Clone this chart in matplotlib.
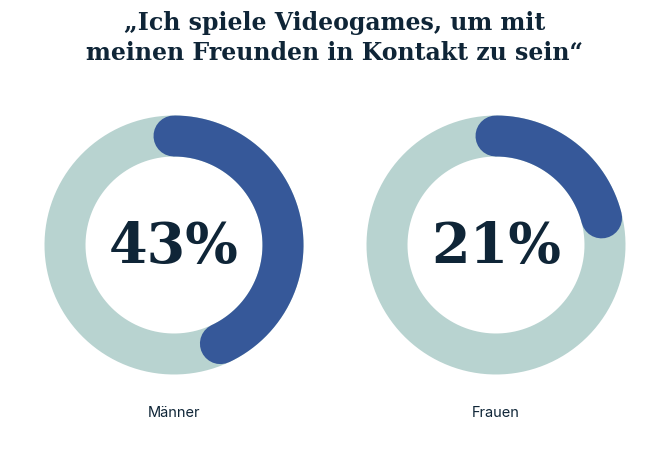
import numpy as np
import matplotlib.pyplot as plt

TITLE = "„Ich spiele Videogames, um mit\nmeinen Freunden in Kontakt zu sein“"
LABELS = ["Männer", "Frauen"]
VALUES = [43, 21]

TRACK, ARC, INK = "#b8d3d0", "#365899", "#0f2537"
CENTERS = [(174, 245), (496, 245)]
R_MID, RING_W = 109, 41

fig = plt.figure(figsize=(6.7, 4.5), dpi=100)
ax = fig.add_axes([0, 0, 1, 1])
ax.set_xlim(0, 670)
ax.set_ylim(450, 0)
ax.axis("off")

lw = RING_W * 72 / fig.dpi
for (cx, cy), val, lab in zip(CENTERS, VALUES, LABELS):
    t = np.linspace(0, 2 * np.pi, 400)
    ax.plot(cx + R_MID * np.sin(t), cy - R_MID * np.cos(t), color=TRACK, lw=lw,
            solid_capstyle="butt")
    t = np.linspace(0, 2 * np.pi * val / 100, 300)
    ax.plot(cx + R_MID * np.sin(t), cy - R_MID * np.cos(t), color=ARC, lw=lw,
            solid_capstyle="round")
    ax.text(cx, cy + 2, f"{val}%", ha="center", va="center", fontsize=40,
            family="DejaVu Serif", fontweight="bold", color=INK)
    ax.text(cx, 413, lab, ha="center", va="center", fontsize=10.5,
            family="Inter", color=INK)

ax.text(335, 38, TITLE, ha="center", va="center", fontsize=17,
        family="DejaVu Serif", fontweight="bold", color=INK, linespacing=1.3)

fig.savefig("out.png", dpi=100)
